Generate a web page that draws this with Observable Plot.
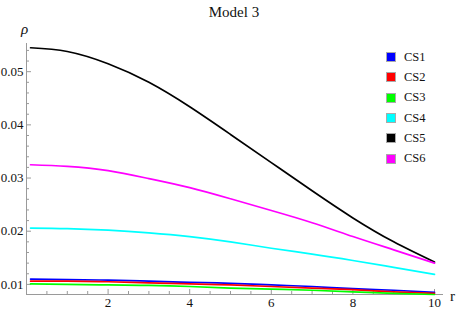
<!DOCTYPE html>
<html><head><meta charset="utf-8">
<script src="https://cdn.jsdelivr.net/npm/d3@7"></script>
<script src="https://cdn.jsdelivr.net/npm/@observablehq/plot@0.6"></script>
<style>
body{margin:0;background:#fff;}
#wrap{position:relative;width:460px;height:315px;font-family:"Liberation Serif","Times New Roman",serif;color:#111;}
#wrap svg{position:absolute;left:0;top:0;font-family:"Liberation Serif","Times New Roman",serif !important;}
#wrap svg text{font-family:"Liberation Serif","Times New Roman",serif !important;}
.title{position:absolute;top:3px;left:0;width:468px;text-align:center;font-size:15px;line-height:18px;}
.lab{position:absolute;font-size:15px;line-height:16px;}
.legend{position:absolute;left:386px;top:47px;}
.legrow{height:20.3px;display:flex;align-items:center;font-size:12.5px;}
.sw{width:8px;height:8px;border:1px solid #aaa;margin-right:8px;}
</style>
</head><body>
<div id="wrap">
  <div class="title">Model 3</div>
  <div class="lab" style="left:21px;top:21px;font-style:italic;">ρ</div>
  <div class="lab" style="left:450px;top:288px;">r</div>
  <div class="legend" id="legend"></div>
</div>
<script>
const seriesNames = ["CS1", "CS2", "CS3", "CS4", "CS5", "CS6"];
const seriesColors = ["#0000ff", "#ff0000", "#00ff00", "#00ffff", "#000000", "#ff00ff"];
const rValues = [0.1, 1, 2, 3, 4, 5, 6, 7, 8, 9, 10];
const cs1 = [0.0110, 0.0109, 0.0108, 0.0106, 0.0104, 0.0102, 0.0099, 0.0096, 0.0092, 0.0089, 0.0085];
const cs2 = [0.0106, 0.0106, 0.0105, 0.0103, 0.0101, 0.0099, 0.0096, 0.0093, 0.0090, 0.0086, 0.0083];
const cs3 = [0.0101, 0.0100, 0.0099, 0.0098, 0.0096, 0.0093, 0.0091, 0.0089, 0.0086, 0.0083, 0.0081];
const cs4 = [0.0206, 0.0205, 0.0202, 0.0197, 0.0190, 0.0180, 0.0168, 0.0157, 0.0145, 0.0132, 0.0119];
const cs5 = [0.0545, 0.0538, 0.0515, 0.0480, 0.0434, 0.0382, 0.0329, 0.0276, 0.0225, 0.0180, 0.0142];
const cs6 = [0.0325, 0.0322, 0.0314, 0.0299, 0.0282, 0.0261, 0.0239, 0.0216, 0.0190, 0.0165, 0.0140];
const seriesValues = [cs1, cs2, cs3, cs4, cs5, cs6];

const xMajor = [2, 4, 6, 8, 10];
const xMinor = d3.range(0.5, 10, 0.5).filter(v => !xMajor.includes(v));
const yMajor = [0.01, 0.02, 0.03, 0.04, 0.05];
const yMinor = d3.range(9, 56, 1).map(v => v / 1000).filter(v => Math.round(v * 1000) % 2 === 0 && !yMajor.some(m => Math.abs(m - v) < 1e-9));
const yMin = 0.0081, yMax = 0.0553;

const rows = [];
seriesNames.forEach((name, i) => {
  rValues.forEach((r, j) => rows.push({series: name, r, rho: seriesValues[i][j]}));
});

const axisColor = "#9a9a9a";
const serif = "Liberation Serif, Times New Roman, serif";
const chart = Plot.plot({
  width: 460, height: 315,
  marginLeft: 26, marginRight: 26, marginTop: 43, marginBottom: 21,
  style: {fontFamily: serif, fontSize: "13px", color: "#111", background: "transparent"},
  x: {domain: [0, 10], label: null},
  y: {domain: [yMin, yMax], label: null},
  color: {domain: seriesNames, range: seriesColors},
  marks: [
    Plot.ruleX([0], {stroke: axisColor}),
    Plot.ruleY([yMin], {stroke: axisColor, insetRight: -9}),
    Plot.axisX({ticks: xMajor, tickSize: 5, dy: -5, tickFormat: () => "", stroke: axisColor, label: null}),
    Plot.axisX({ticks: xMinor, tickSize: 3, dy: -3, tickFormat: () => "", stroke: axisColor, label: null}),
    Plot.axisX({ticks: xMajor, tickSize: 0, tickPadding: 3, fontSize: 13, fill: "#111", fontFamily: serif, label: null}),
    Plot.axisY({ticks: yMajor, tickSize: 5, dx: 5, tickFormat: () => "", stroke: axisColor, label: null}),
    Plot.axisY({ticks: yMinor, tickSize: 3, dx: 3, tickFormat: () => "", stroke: axisColor, label: null}),
    Plot.axisY({ticks: yMajor, tickSize: 0, tickPadding: 3, tickFormat: d3.format(".2f"), fontSize: 13, fill: "#111", fontFamily: serif, label: null}),
    Plot.line(rows, {x: "r", y: "rho", z: "series", stroke: "series", strokeWidth: 1.7, curve: "natural"})
  ]
});
document.getElementById("wrap").appendChild(chart);

const legend = document.getElementById("legend");
seriesNames.forEach((name, i) => {
  const row = document.createElement("div");
  row.className = "legrow";
  const sw = document.createElement("div");
  sw.className = "sw";
  sw.style.background = seriesColors[i];
  const t = document.createElement("span");
  t.textContent = name;
  row.appendChild(sw); row.appendChild(t);
  legend.appendChild(row);
});
</script>
</body></html>
